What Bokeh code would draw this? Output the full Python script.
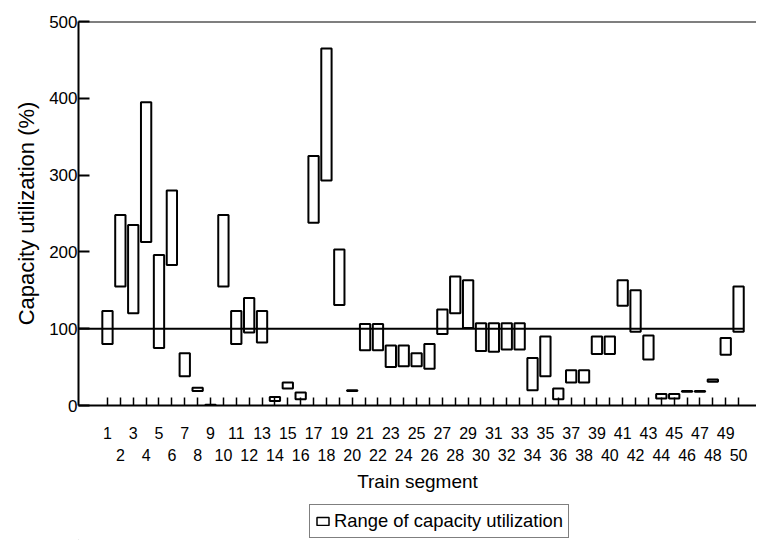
from bokeh.plotting import figure
from bokeh.layouts import column
from bokeh.models import Range1d, LinearAxis, FixedTicker, Legend, LegendItem, Span
from bokeh.embed import file_html
from bokeh.resources import INLINE

# ---- data -------------------------------------------------------------
segments = list(range(1, 51))
low = [80, 155, 120, 213, 75, 183, 38, 19, 0, 155,
       80, 95, 82, 6, 22, 8, 238, 293, 131, 19,
       72, 72, 50, 51, 51, 48, 93, 120, 101, 71,
       70, 73, 73, 20, 38, 8, 30, 30, 67, 67,
       130, 96, 60, 9, 9, 18, 18, 31, 66, 96]
high = [123, 248, 235, 395, 196, 280, 68, 23, 1, 248,
        123, 140, 123, 11, 30, 17, 325, 465, 203, 20,
        106, 106, 78, 78, 68, 80, 125, 168, 163, 107,
        107, 107, 107, 62, 90, 22, 46, 46, 90, 90,
        163, 150, 91, 15, 15, 19, 19, 34, 88, 155]
y_ticks = [0, 100, 200, 300, 400, 500]
ref_level = 100
x_title = "Train segment"
y_title = "Capacity utilization (%)"
legend_label = "Range of capacity utilization"

FONT = "Liberation Sans"

p = figure(width=756, height=500, output_backend="svg", toolbar_location=None,
           x_range=Range1d(-1.25, 51.39), y_range=Range1d(0, 500),
           min_border_left=78, min_border_right=0, min_border_top=21,
           min_border_bottom=95, x_axis_location="below")
p.outline_line_color = None
p.xgrid.visible = False
p.ygrid.visible = False
p.background_fill_color = "white"
p.border_fill_color = "white"

# reference line at 100 %
p.line(x=[p.x_range.start, segments[-1] + 0.4], y=[ref_level, ref_level],
       line_color="black", line_width=2)

# range boxes
p.vbar(x=segments, width=0.8, bottom=low, top=high,
       fill_alpha=0, line_color="black", line_width=2)

# top border line
p.add_layout(Span(location=500, dimension="width", line_color="black", line_width=2))

# y axis
ya = p.yaxis[0]
ya.ticker = FixedTicker(ticks=y_ticks)
ya.minor_tick_line_color = None
ya.major_tick_in = 11
ya.major_tick_out = 0
ya.major_tick_line_width = 2
ya.axis_line_width = 2
ya.major_label_standoff = 1
ya.major_label_text_font = FONT
ya.major_label_text_font_size = "17px"
ya.major_label_text_color = "black"
ya.axis_label = y_title
ya.axis_label_text_font = FONT
ya.axis_label_text_font_size = "22px"
ya.axis_label_text_font_style = "normal"
ya.axis_label_text_color = "black"
ya.axis_label_standoff = 7

# x axis, row 1 (odd labels)
xa = p.xaxis[0]
xa.ticker = FixedTicker(ticks=segments)
xa.major_label_overrides = {s: (str(s) if s % 2 == 1 else "") for s in segments}
xa.minor_tick_line_color = None
xa.major_tick_in = 8
xa.major_tick_out = 0
xa.major_tick_line_width = 1.5
xa.axis_line_width = 2
xa.major_label_standoff = 21
xa.major_label_text_font = FONT
xa.major_label_text_font_size = "16px"
xa.major_label_text_color = "black"

# x axis, row 2 (even labels) + title
xa2 = LinearAxis(ticker=FixedTicker(ticks=segments))
xa2.major_label_overrides = {s: (str(s) if s % 2 == 0 else "") for s in segments}
xa2.axis_line_color = None
xa2.major_tick_line_color = None
xa2.minor_tick_line_color = None
xa2.major_tick_in = 0
xa2.major_tick_out = 0
xa2.major_label_standoff = 7
xa2.major_label_text_font = FONT
xa2.major_label_text_font_size = "16px"
xa2.major_label_text_color = "black"
xa2.axis_label = x_title
xa2.axis_label_text_font = FONT
xa2.axis_label_text_font_size = "19px"
xa2.axis_label_text_font_style = "normal"
xa2.axis_label_text_color = "black"
xa2.axis_label_standoff = 7
p.add_layout(xa2, "below")

# ---- legend strip -------------------------------------------------------
# the proxy renderer holds the first range box; the strip's ranges keep it off-view
p2 = figure(width=756, height=40, output_backend="svg", toolbar_location=None,
            x_axis_type=None, y_axis_type=None, min_border=0,
            x_range=Range1d(100, 101), y_range=Range1d(1000, 1001))
p2.outline_line_color = None
p2.xgrid.visible = False
p2.ygrid.visible = False
proxy = p2.vbar(x=segments[:1], width=0.8, bottom=low[:1], top=high[:1],
                fill_color="white", fill_alpha=1, line_color="black", line_width=1.5)
legend = Legend(items=[LegendItem(label=legend_label, renderers=[proxy])],
                location=(231, 2), orientation="horizontal",
                glyph_width=15, glyph_height=10, label_standoff=4,
                label_height=20, label_width=0, padding=5, spacing=0, margin=0,
                border_line_color="black", border_line_width=1.5,
                label_text_font=FONT, label_text_font_size="18.4px",
                label_text_color="black", background_fill_alpha=1)
p2.add_layout(legend, "center")

layout = column(p, p2, spacing=0)
open("out.html", "w").write(file_html(layout, INLINE))
